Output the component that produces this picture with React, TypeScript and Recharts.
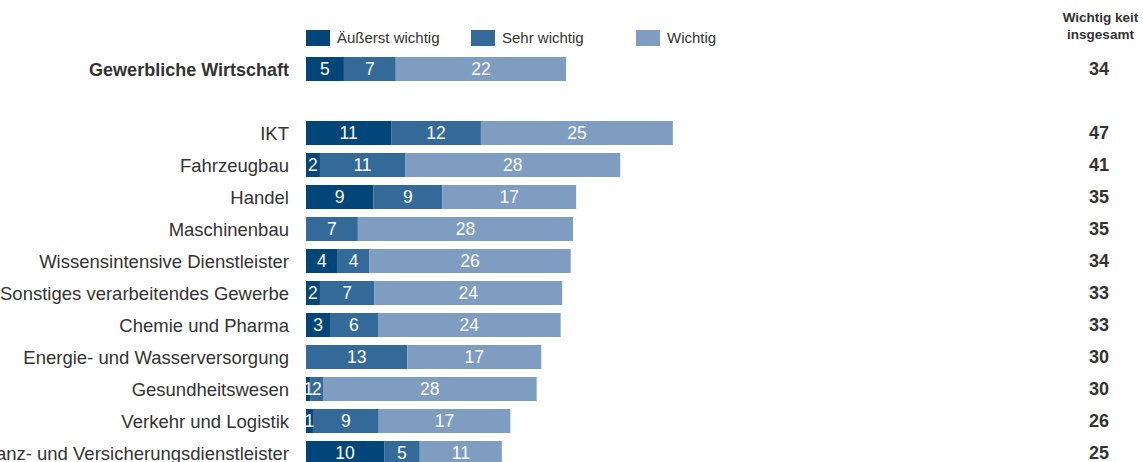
import { Bar, BarChart, LabelList, Legend, XAxis, YAxis } from "recharts";

const categories = [
  "Gewerbliche Wirtschaft",
  " ",
  "IKT",
  "Fahrzeugbau",
  "Handel",
  "Maschinenbau",
  "Wissensintensive Dienstleister",
  "Sonstiges verarbeitendes Gewerbe",
  "Chemie und Pharma",
  "Energie- und Wasserversorgung",
  "Gesundheitswesen",
  "Verkehr und Logistik",
  "Finanz- und Versicherungsdienstleister",
];
// shares in percent (labels are rounded)
const aeusserst = [4.9, null, 11.0, 1.8, 8.7, 0, 4.1, 1.8, 3.1, 0, 0.6, 0.9, 10.1];
const sehr = [6.7, null, 11.6, 11.0, 8.9, 6.7, 4.1, 7.0, 6.2, 13.1, 1.6, 8.5, 4.6];
const wichtig = [22.0, null, 24.8, 27.8, 17.3, 27.8, 26.0, 24.3, 23.6, 17.3, 27.6, 17.0, 10.6];
const totals = [34, null, 47, 41, 35, 35, 34, 33, 33, 30, 30, 26, 25];

const seriesNames = ["Äußerst wichtig", "Sehr wichtig", "Wichtig"];
const COLORS = ["#004678", "#336A99", "#7F9DC1"];
const FONT = "'Liberation Sans', Arial, sans-serif";
const TEXT = "#333333";

const data = categories.map((name, i) => ({
  name,
  a: aeusserst[i],
  s: sehr[i],
  w: wichtig[i],
}));

function LeftTick(props: any) {
  const { x, y, payload, index } = props;
  const bold = index === 0;
  return (
    <text
      x={x}
      y={y}
      dy={7}
      textAnchor="end"
      fontFamily={FONT}
      fontSize={bold ? 18 : 18.5}
      fontWeight={bold ? 700 : 400}
      fill={TEXT}
    >
      {payload.value}
    </text>
  );
}

function RightTick(props: any) {
  const { x, y, index } = props;
  const t = totals[index];
  if (t == null) return null;
  return (
    <text
      x={x + 19}
      y={y}
      dy={6}
      textAnchor="middle"
      fontFamily={FONT}
      fontSize={18}
      fontWeight={700}
      fill={TEXT}
    >
      {t}
    </text>
  );
}

function LegendContent() {
  return (
    <div style={{ display: "flex", fontFamily: FONT, fontSize: 15, color: TEXT }}>
      {seriesNames.map((n, i) => (
        <div key={n} style={{ width: 165, display: "flex", alignItems: "center" }}>
          <span
            style={{
              display: "inline-block",
              width: 24,
              height: 16,
              background: COLORS[i],
              marginRight: 7,
            }}
          />
          {n}
        </div>
      ))}
    </div>
  );
}

const labelFmt = (v: any) => (v ? Math.round(v) : "");

export default function App() {
  const labelStyle = { fill: "#ffffff", fontSize: 17.5, fontFamily: FONT };
  return (
    <div style={{ position: "absolute", left: 0, top: 0, width: 1143, height: 462, overflow: "hidden" }}>
      <div
        style={{
          position: "absolute",
          left: 1058,
          top: 9,
          width: 85,
          textAlign: "center",
          fontFamily: FONT,
          fontSize: 13.5,
          fontWeight: 700,
          lineHeight: "17px",
          color: TEXT,
        }}
      >
        Wichtig keit
        <br />
        insgesamt
      </div>
      <BarChart
        width={1143}
        height={470}
        data={data}
        layout="vertical"
        margin={{ top: 53, right: 0, bottom: 1, left: 0 }}
      >
        <XAxis type="number" domain={[0, 100]} hide />
        <YAxis
          yAxisId="left"
          type="category"
          dataKey="name"
          width={306}
          axisLine={false}
          tickLine={false}
          tickSize={0}
          tickMargin={17}
          interval={0}
          tick={<LeftTick />}
        />
        <YAxis
          yAxisId="right"
          orientation="right"
          type="category"
          dataKey="name"
          width={63}
          axisLine={false}
          tickLine={false}
          tickSize={0}
          tickMargin={0}
          interval={0}
          tick={<RightTick />}
        />
        <Legend
          verticalAlign="middle"
          align="center"
          layout="horizontal"
          wrapperStyle={{ top: 29, left: 306, width: 500 }}
          content={<LegendContent />}
        />
        <Bar dataKey="a" name={seriesNames[0]} yAxisId="left" stackId="x" fill={COLORS[0]} barSize={24} isAnimationActive={false}>
          <LabelList dataKey="a" position="center" formatter={labelFmt} style={labelStyle} />
        </Bar>
        <Bar dataKey="s" name={seriesNames[1]} yAxisId="left" stackId="x" fill={COLORS[1]} barSize={24} isAnimationActive={false}>
          <LabelList dataKey="s" position="center" formatter={labelFmt} style={labelStyle} />
        </Bar>
        <Bar dataKey="w" name={seriesNames[2]} yAxisId="left" stackId="x" fill={COLORS[2]} barSize={24} isAnimationActive={false}>
          <LabelList dataKey="w" position="center" formatter={labelFmt} style={labelStyle} />
        </Bar>
      </BarChart>
    </div>
  );
}
